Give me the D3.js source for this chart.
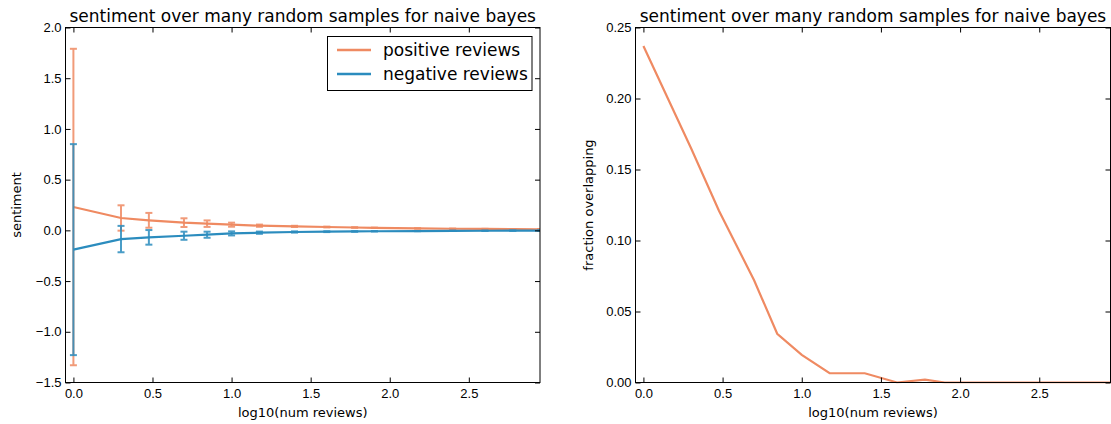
<!DOCTYPE html>
<html lang="en">
<head>
<meta charset="UTF-8">
<title>sentiment over many random samples</title>
<style>
  body { margin: 0; background: #fff; }
  svg { display: block; font-family: "DejaVu Sans", sans-serif; }
  .tick text { font-size: 13px; fill: #000; }
</style>
</head>
<body>
<svg id="chart" width="1111" height="424"></svg>
<script src="https://d3js.org/d3.v7.min.js"></script>
<script>
// data
const numReviews = [1, 2, 3, 5, 7, 10, 15, 25, 40, 60, 80, 150, 250, 400, 600, 900];
const posMean = [0.23, 0.122, 0.099, 0.076, 0.066, 0.056, 0.046, 0.039, 0.033, 0.028, 0.025, 0.019, 0.016, 0.014, 0.012, 0.011];
const posErr  = [1.56, 0.125, 0.073, 0.043, 0.032, 0.02, 0.011, 0.006, 0.004, 0.003, 0.002, 0.001, 0.001, 0.001, 0.0, 0.0];
const negMean = [-0.19, -0.086, -0.069, -0.053, -0.043, -0.03, -0.023, -0.016, -0.013, -0.011, -0.009, -0.007, -0.005, -0.004, -0.003, -0.002];
const negErr  = [1.04, 0.13, 0.072, 0.04, 0.03, 0.02, 0.011, 0.006, 0.004, 0.003, 0.002, 0.001, 0.001, 0.001, 0.0, 0.0];
const overlap = [0.237, 0.165, 0.121, 0.072, 0.0343, 0.0195, 0.0065, 0.0065, 0, 0.002, 0, 0, 0, 0, 0, 0];

const xTicks = [0.0, 0.5, 1.0, 1.5, 2.0, 2.5];
const leftYTicks = [-1.5, -1.0, -0.5, 0.0, 0.5, 1.0, 1.5, 2.0];
const rightYTicks = [0.0, 0.05, 0.10, 0.15, 0.20, 0.25];
const titleText = "sentiment over many random samples for naive bayes";
const seriesNames = ["positive reviews", "negative reviews"];

const orange = "#ef8a62";
const blue = "#2b8cbe";
const logX = numReviews.map(n => Math.log10(n));

const svg = d3.select("#chart");
const plotTop = 27.5, plotBottom = 382.5;

function fmtTick(d, digits) {
  return d.toFixed(digits).replace("-", "\u2212");
}

// draws frame, inward ticks on all sides, labels
function makeAxes(left, right, yDomain, yTicks, yDigits, ylabel, ylabelX, clipId) {
  const x = d3.scaleLinear().domain([-0.05, 2.95]).range([left, right]);
  const y = d3.scaleLinear().domain(yDomain).range([plotBottom, plotTop]);
  const g = svg.append("g");

  svg.append("clipPath").attr("id", clipId)
    .append("rect").attr("x", left).attr("y", plotTop - 1)
    .attr("width", right - left).attr("height", plotBottom - plotTop + 2);

  const plot = g.append("g").attr("clip-path", `url(#${clipId})`);
  const frame = g.append("g");

  const tl = 5;
  frame.append("g")
    .attr("transform", `translate(0,${plotBottom})`)
    .call(d3.axisBottom(x).tickValues(xTicks).tickSizeInner(-tl).tickSizeOuter(0)
      .tickPadding(6).tickFormat(d => fmtTick(d, 1)))
    .call(a => a.select(".domain").remove());
  frame.append("g")
    .attr("transform", `translate(0,${plotTop})`)
    .call(d3.axisTop(x).tickValues(xTicks).tickSizeInner(-tl).tickSizeOuter(0).tickFormat(""))
    .call(a => a.select(".domain").remove());
  frame.append("g")
    .attr("transform", `translate(${left},0)`)
    .call(d3.axisLeft(y).tickValues(yTicks).tickSizeInner(-tl).tickSizeOuter(0)
      .tickPadding(4).tickFormat(d => fmtTick(d, yDigits)))
    .call(a => a.select(".domain").remove());
  frame.append("g")
    .attr("transform", `translate(${right},0)`)
    .call(d3.axisRight(y).tickValues(yTicks).tickSizeInner(-tl).tickSizeOuter(0).tickFormat(""))
    .call(a => a.select(".domain").remove());
  frame.selectAll(".tick line").attr("stroke", "#000");
  frame.selectAll(".tick text").attr("font-family", null).attr("font-size", null);

  frame.append("rect")
    .attr("x", left).attr("y", plotTop)
    .attr("width", right - left).attr("height", plotBottom - plotTop)
    .attr("fill", "none").attr("stroke", "#000").attr("stroke-width", 1);

  g.append("text")
    .attr("x", (left + right) / 2).attr("y", 21.5)
    .attr("text-anchor", "middle").attr("font-size", 17)
    .text(titleText);
  g.append("text")
    .attr("x", (left + right) / 2).attr("y", 417)
    .attr("text-anchor", "middle").attr("font-size", 13)
    .text("log10(num reviews)");
  g.append("text")
    .attr("transform", `translate(${ylabelX},${(plotTop + plotBottom) / 2}) rotate(-90)`)
    .attr("text-anchor", "middle").attr("font-size", 13)
    .text(ylabel);

  return { x, y, plot, frame };
}

// left panel: mean sentiment with error bars
const L = makeAxes(65.5, 540, [-1.5, 2.0], leftYTicks, 1, "sentiment", 21, "clipL");
const line = d3.line().x((d, i) => L.x(logX[i])).y(d => L.y(d));

function drawErrSeries(means, errs, color) {
  const bars = L.plot.append("g")
    .attr("stroke", color).attr("stroke-width", 2).attr("opacity", 0.85);
  means.forEach((m, i) => {
    const cx = L.x(logX[i]);
    const y1 = L.y(m + errs[i]), y2 = L.y(m - errs[i]);
    bars.append("line").attr("x1", cx).attr("x2", cx).attr("y1", y1).attr("y2", y2);
    bars.append("line").attr("x1", cx - 3.5).attr("x2", cx + 3.5).attr("y1", y1).attr("y2", y1);
    bars.append("line").attr("x1", cx - 3.5).attr("x2", cx + 3.5).attr("y1", y2).attr("y2", y2);
  });
  L.plot.append("path").datum(means)
    .attr("d", line).attr("fill", "none")
    .attr("stroke", color).attr("stroke-width", 2.2);
}
drawErrSeries(posMean, posErr, orange);
drawErrSeries(negMean, negErr, blue);
L.frame.raise();

// legend
const lg = svg.append("g");
lg.append("rect").attr("x", 327.5).attr("y", 36.5).attr("width", 204.5).attr("height", 54)
  .attr("fill", "#fff").attr("stroke", "#000");
[orange, blue].forEach((c, i) => {
  const yy = 50 + i * 24;
  lg.append("line").attr("x1", 337).attr("x2", 371).attr("y1", yy).attr("y2", yy)
    .attr("stroke", c).attr("stroke-width", 2.5);
  lg.append("text").attr("x", 383).attr("y", yy + 6).attr("font-size", 17).text(seriesNames[i]);
});

// right panel: fraction overlapping
const R = makeAxes(635.5, 1110.5, [0, 0.25], rightYTicks, 2, "fraction overlapping", 593, "clipR");
R.plot.append("path").datum(overlap)
  .attr("d", d3.line().x((d, i) => R.x(logX[i])).y(d => R.y(d)))
  .attr("fill", "none").attr("stroke", orange).attr("stroke-width", 2.2);
</script>
</body>
</html>
